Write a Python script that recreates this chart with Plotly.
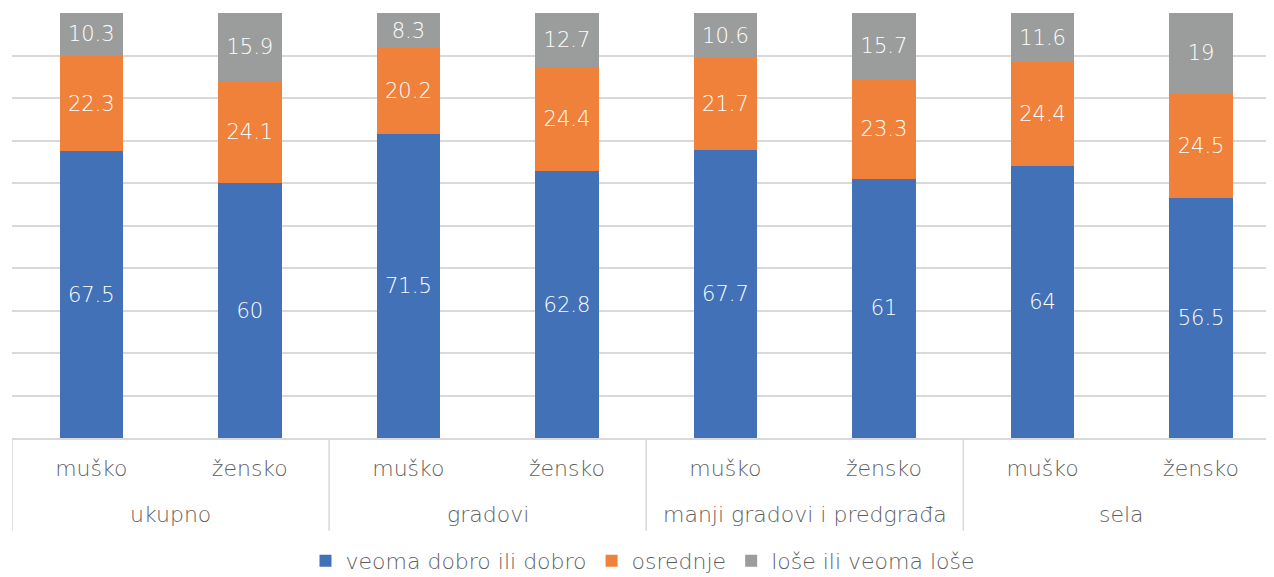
import plotly.graph_objects as go

groups = ["ukupno", "ukupno", "gradovi", "gradovi",
          "manji gradovi i predgrađa", "manji gradovi i predgrađa", "sela", "sela"]
genders = ["muško", "žensko"] * 4
group_names = ["ukupno", "gradovi", "manji gradovi i predgrađa", "sela"]

dobro = [67.5, 60, 71.5, 62.8, 67.7, 61, 64, 56.5]
osrednje = [22.3, 24.1, 20.2, 24.4, 21.7, 23.3, 24.4, 24.5]
lose = [10.3, 15.9, 8.3, 12.7, 10.6, 15.7, 11.6, 19]

series = [
    ("veoma dobro ili dobro", dobro, "#4271B8"),
    ("osrednje", osrednje, "#EF813A"),
    ("loše ili veoma loše", lose, "#9B9D9D"),
]

# unique category keys, shown with the gender label only
keys = [f"{g}|{s}" for g, s in zip(groups, genders)]

FONT = "DejaVu Sans"
GREY = "#5F5F5F"
LINE = "#D9D9D9"
W = 300

fig = go.Figure()
for name, vals, color in series:
    fig.add_trace(go.Bar(
        x=keys,
        y=vals,
        name=name,
        marker=dict(color=color, line=dict(width=0)),
        width=0.4,
        text=[f"{v:g}" for v in vals],
        textposition="inside",
        insidetextanchor="middle",
        textangle=0,
        textfont=dict(color="white", size=21, family=FONT, weight=W),
    ))

# group labels under the gender labels
for i, g in enumerate(group_names):
    fig.add_annotation(x=2 * i + 0.5, xref="x", y=-0.179, yref="paper",
                       text=g, showarrow=False, yanchor="middle",
                       font=dict(size=22, color=GREY, family=FONT, weight=W))

# group dividers
for xv in [-0.5, 1.5, 3.5, 5.5]:
    fig.add_shape(type="line", xref="x", yref="paper", x0=xv, x1=xv, y0=0, y1=-0.218,
                  line=dict(color=LINE, width=1.5))

# page body has an 8px margin, so the figure is sized to fit the window
fig.update_layout(
    barmode="stack",
    width=1266,
    height=569,
    margin=dict(l=4, r=0, t=5, b=139, autoexpand=False),
    plot_bgcolor="white",
    paper_bgcolor="white",
    font=dict(family=FONT, size=22, color=GREY, weight=W),
    showlegend=True,
    legend=dict(orientation="h", x=0.5, xanchor="center",
                y=0.028, yref="container", yanchor="middle",
                font=dict(size=22, color=GREY, family=FONT, weight=W),
                traceorder="normal"),
    xaxis=dict(
        range=[-0.5, 7.46],
        tickvals=keys,
        ticktext=genders,
        showgrid=False,
        showline=True,
        linecolor=LINE,
        linewidth=1.5,
        ticks="",
        ticklabelstandoff=10,
        automargin=False,
        tickfont=dict(size=22, color=GREY, family=FONT, weight=W),
    ),
    yaxis=dict(
        range=[0, 100],
        dtick=10,
        showgrid=True,
        gridcolor=LINE,
        gridwidth=1.5,
        showticklabels=False,
        zeroline=False,
        showline=False,
        automargin=False,
    ),
)

fig.write_html("out.html")
